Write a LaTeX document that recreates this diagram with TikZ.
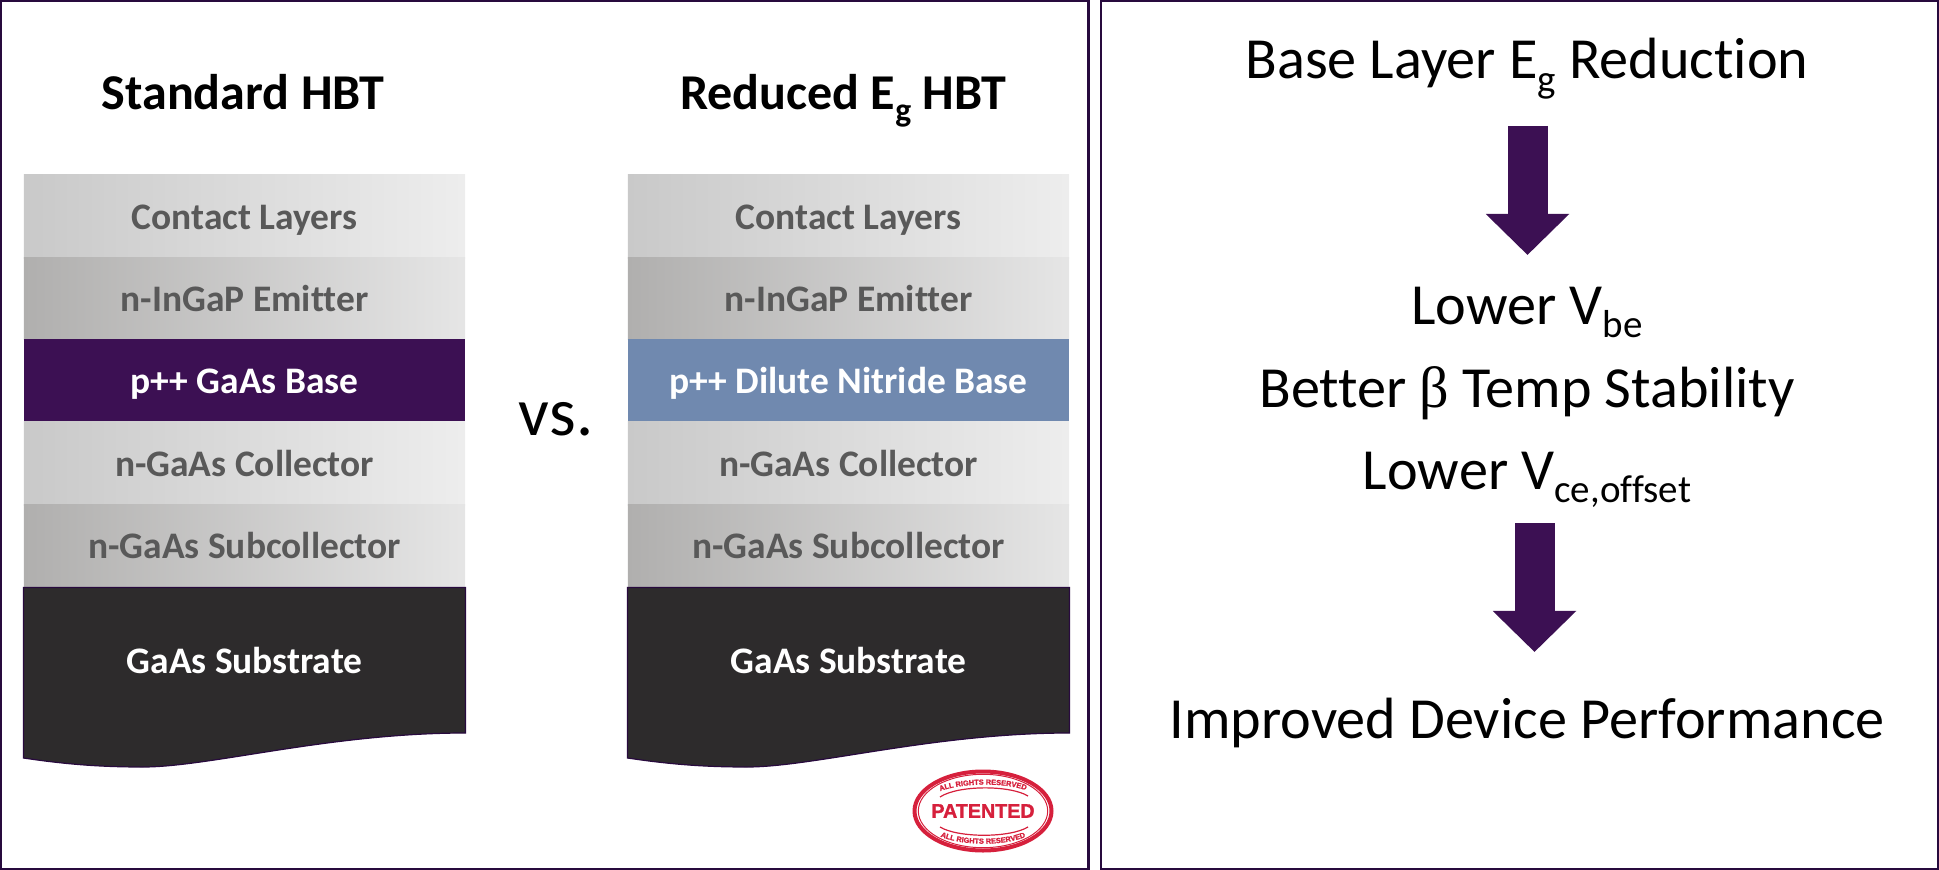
\documentclass[tikz,border=0pt]{standalone}
\usepackage{fontspec}
\setmainfont{Carlito}[Ligatures=NoCommon]
\newfontfamily\stampfont{Liberation Sans}[FakeBold=1.5]
\newfontfamily\betafont{Liberation Serif}
\usetikzlibrary{arrows.meta,decorations.text}
\definecolor{hbtpurple}{RGB}{60,16,83}
\definecolor{hbtframe}{RGB}{40,10,62}
\definecolor{hbtblue}{RGB}{112,137,175}
\definecolor{substrategray}{RGB}{45,43,44}
\definecolor{layertext}{RGB}{89,89,89}
\definecolor{stampred}{RGB}{214,32,60}
\definecolor{layerlight}{RGB}{201,201,201}
\definecolor{layerdark}{RGB}{176,175,174}
\newcommand{\lowsub}[1]{\raisebox{-0.24em}{\scalebox{0.67}{#1}}}
\tikzset{
    layerbox/.style={minimum width=4.41cm, inner sep=0pt, text height=0.31cm, text depth=0.06cm, text=layertext, font=\fontsize{10.65}{12}\selectfont\bfseries},
    headtext/.style={anchor=base, font=\fontsize{14.25}{16}\selectfont\bfseries},
    sidetext/.style={anchor=base, font=\fontsize{16.55}{18}\selectfont},
    blockarrow/.style={line width=0.4cm, hbtpurple, -{Triangle[width=0.81cm, length=0.41cm]}},
}

\begin{document}
\begin{tikzpicture}[x=0.01cm, y=-0.01cm]
\useasboundingbox (0,0) rectangle (1939,870);

% Panel frames
\draw[line width=0.028cm, draw=hbtframe] (0.7,0.7) rectangle (1088.5,869);
\draw[line width=0.028cm, draw=hbtframe] (1101,0.7) rectangle (1938.3,869);

% Layer stacks
\foreach \colx/\tag/\basefill/\basetext in {244.5/std/hbtpurple/p++ GaAs Base, 848.5/red/hbtblue/p++ Dilute Nitride Base} {
    \node[layerbox, minimum height=0.83cm, left color=layerlight, right color=black!7] (\tag contact) at (\colx,216.5) {Contact Layers};
    \node[layerbox, minimum height=0.81cm, left color=layerdark, right color=black!10] (\tag emitter) at (\colx,298.5) {n-InGaP Emitter};
    \node[layerbox, minimum height=0.84cm, fill=\basefill, text=white] (\tag base) at (\colx,381) {\basetext};
    \node[layerbox, minimum height=0.83cm, left color=layerlight, right color=black!7] (\tag collector) at (\colx,463.5) {n-GaAs Collector};
    \node[layerbox, minimum height=0.82cm, left color=layerdark, right color=black!10] (\tag subcollector) at (\colx,546) {n-GaAs Subcollector};
    % Substrate with torn lower edge
    \begin{scope}[shift={(\colx-244.5,0)}]
    \draw[fill=substrategray, draw=hbtframe, line width=0.012cm] (23.5,587.5) -- (465.5,587.5) -- (465.5,733)
        .. controls (330,733) and (210,767) .. (143,767)
        .. controls (105,767) and (70,765) .. (23.5,758) -- cycle;
    \end{scope}
    \node[layerbox, text=white] (\tag substrate) at (\colx,661) {GaAs Substrate};
}

% Headings
\node[headtext] (stdhead) at (243,109.5) {Standard HBT};
\node[headtext] (redhead) at (843,109.5) {Reduced E\lowsub{g} HBT};
\node[anchor=base, font=\fontsize{19.4}{22}\selectfont] (versus) at (556,435.5) {vs.};

% Right panel text
\node[sidetext] (reduction) at (1527,79) {Base Layer E\lowsub{g} Reduction};
\node[sidetext] (vbe) at (1527,324) {Lower V\lowsub{be}};
\node[sidetext] (beta) at (1527,407) {Better {\betafont β} Temp Stability};
\node[sidetext] (offset) at (1527,489) {Lower V\lowsub{ce,offset}};
\node[sidetext] (performance) at (1527,738) {Improved Device Performance};

% Block arrows
\coordinate (arrowonetop) at (1527.5,126);
\coordinate (arrowonetip) at (1527.5,255);
\coordinate (arrowtwotop) at (1534.5,523);
\coordinate (arrowtwotip) at (1534.5,652);
\draw[blockarrow] (arrowonetop) -- (arrowonetip);
\draw[blockarrow] (arrowtwotop) -- (arrowtwotip);

% Patent stamp
\draw[stampred, line width=0.04cm] (983,811) ellipse (68.5 and 39.5);
\draw[stampred, line width=0.01cm] (983,811) ellipse (64.7 and 36.7);
\node[text=stampred, font=\stampfont\fontsize{5.6}{7}\selectfont\bfseries] (stamp) at (983,811) {PATENTED};
\draw[stampred, line width=0.012cm] (940,797) .. controls (958,785) and (1010,785) .. (1028,796);
\draw[stampred, line width=0.012cm] (940,827) .. controls (958,838) and (1010,838) .. (1028,827);
\path[decorate, decoration={text along path, text align=center, text color=stampred,
    text={|\stampfont\fontsize{2.1}{3}\selectfont\bfseries|ALL RIGHTS RESERVED}}]
    (936,793) .. controls (958,782) and (1010,782) .. (1030,792);
\path[decorate, decoration={text along path, text align=center, text color=stampred,
    text={|\stampfont\fontsize{2.1}{3}\selectfont\bfseries|ALL RIGHTS RESERVED}}]
    (935,834) .. controls (958,847) and (1010,847) .. (1031,834);
\end{tikzpicture}
\end{document}
